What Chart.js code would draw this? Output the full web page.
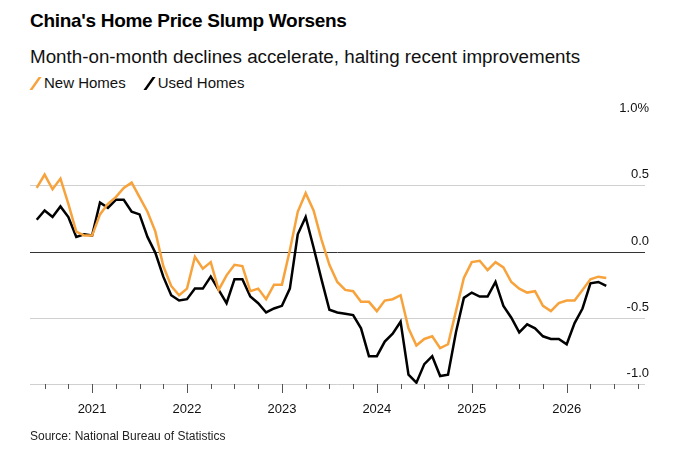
<!DOCTYPE html>
<html>
<head>
<meta charset="utf-8">
<script src="https://cdn.jsdelivr.net/npm/chart.js@4"></script>
<style>
  body { margin: 0; width: 676px; height: 459px; background: #fff; font-family: "Liberation Sans", Arial, sans-serif; position: relative; overflow: hidden; }
  #title { position: absolute; left: 30px; top: 10px; font-size: 19px; font-weight: bold; color: #000; letter-spacing: -0.3px; }
  #sub { position: absolute; left: 30px; top: 46px; font-size: 18.8px; color: #111; }
  #legend { position: absolute; left: 30px; top: 74px; font-size: 15px; color: #111; }
  #legend span { display: inline-block; margin-right: 18px; }
  #legend i { display: inline-block; width: 3px; height: 13px; transform: skewX(-35deg) translateX(4px); margin-right: 11px; vertical-align: -2px; }
  #src { position: absolute; left: 30px; top: 429px; font-size: 12px; color: #222; }
  #wrap { position: absolute; left: 0; top: 100px; width: 676px; height: 330px; }
</style>
</head>
<body>
<div id="title">China's Home Price Slump Worsens</div>
<div id="sub">Month-on-month declines accelerate, halting recent improvements</div>
<div id="legend"><span><i style="background:#f7a23b"></i>New Homes</span><span><i style="background:#000"></i>Used Homes</span></div>
<div id="wrap"><canvas id="c"></canvas></div>
<div id="src">Source: National Bureau of Statistics</div>
<script>
// monthly, Jun 2020 .. Jun 2026
const startYear = 2020, startMonth = 6;
const newHomes = [0.48, 0.58, 0.47, 0.55, 0.36, 0.15, 0.12, 0.12, 0.28, 0.36, 0.41, 0.48, 0.52, 0.41, 0.30, 0.15,
  -0.11, -0.26, -0.33, -0.28, -0.04, -0.13, -0.08, -0.29, -0.18, -0.10, -0.11, -0.30, -0.28, -0.36, -0.25, -0.25,
  0.01, 0.30, 0.44, 0.31, 0.09, -0.10, -0.23, -0.29, -0.30, -0.38, -0.38, -0.45, -0.37, -0.36, -0.33, -0.58,
  -0.71, -0.66, -0.64, -0.73, -0.70, -0.45, -0.20, -0.08, -0.07, -0.14, -0.08, -0.12, -0.23, -0.28, -0.31, -0.30,
  -0.41, -0.45, -0.39, -0.37, -0.37, -0.29, -0.21, -0.19, -0.20];
const usedHomes = [0.24, 0.31, 0.26, 0.34, 0.26, 0.11, 0.13, 0.12, 0.37, 0.33, 0.39, 0.39, 0.30, 0.28, 0.11, -0.01,
  -0.19, -0.33, -0.37, -0.36, -0.28, -0.28, -0.19, -0.29, -0.39, -0.21, -0.21, -0.34, -0.39, -0.46, -0.43, -0.41,
  -0.28, 0.13, 0.26, 0.03, -0.21, -0.44, -0.46, -0.47, -0.48, -0.58, -0.79, -0.79, -0.68, -0.62, -0.53, -0.93,
  -0.99, -0.85, -0.79, -0.94, -0.93, -0.61, -0.35, -0.31, -0.34, -0.34, -0.23, -0.41, -0.50, -0.61, -0.55, -0.58,
  -0.64, -0.66, -0.66, -0.70, -0.54, -0.43, -0.24, -0.23, -0.26];
const yTicks = [1.0, 0.5, 0.0, -0.5, -1.0];
const yLabels = ["1.0%", "0.5", "0.0", "-0.5", "-1.0"];

const pts = arr => arr.map((v, i) => ({ x: i, y: v }));
const monthOf = k => (startMonth - 1 + k) % 12; // 0 = Jan
const yearOf = k => startYear + Math.floor((startMonth - 1 + k) / 12);

const overlay = {
  id: "overlay",
  beforeDatasetsDraw(chart) {
    const { ctx, chartArea: a, scales: { y } } = chart;
    ctx.save();
    yTicks.forEach((v, i) => {
      const py = Math.round(y.getPixelForValue(v)) + 0.5;
      if (v !== 1.0) {
        ctx.strokeStyle = v === 0 ? "#333" : "#d0d0d0";
        ctx.lineWidth = 1;
        ctx.beginPath(); ctx.moveTo(a.left, py); ctx.lineTo(a.right, py); ctx.stroke();
      }
      ctx.fillStyle = "#111";
      ctx.font = "13px 'Liberation Sans', Arial";
      ctx.textAlign = "right";
      ctx.textBaseline = "bottom";
      ctx.fillText(yLabels[i], a.right + 4, py - 5);
    });
    ctx.restore();
  },
  afterDraw(chart) {
    const { ctx, chartArea: a, scales: { x } } = chart;
    ctx.save();
    ctx.strokeStyle = "#555";
    ctx.lineWidth = 1;
    for (let k = 0; k <= 76; k++) {
      if (monthOf(k) % 3 !== 0) continue;
      const px = Math.round(x.getPixelForValue(k)) + 0.5;
      if (px < a.left || px > a.right) continue;
      ctx.beginPath(); ctx.moveTo(px, a.bottom); ctx.lineTo(px, a.bottom + (monthOf(k) === 0 ? 9 : 5)); ctx.stroke();
    }
    ctx.restore();
  }
};

new Chart(document.getElementById("c"), {
  type: "line",
  data: {
    datasets: [
      { label: "New Homes", data: pts(newHomes), borderColor: "#f7a23b", borderWidth: 2.5, pointRadius: 0, tension: 0 },
      { label: "Used Homes", data: pts(usedHomes), borderColor: "#000", borderWidth: 2.5, pointRadius: 0, tension: 0 }
    ]
  },
  options: {
    responsive: true, maintainAspectRatio: false, animation: false,
    layout: { padding: { left: 30, right: 31, top: 19, bottom: 0 } },
    plugins: { legend: { display: false }, tooltip: { enabled: false } },
    scales: {
      x: {
        type: "linear", min: -0.85, max: 76.9,
        grid: { display: false }, border: { display: false },
        afterBuildTicks: s => { const t = []; for (let k = 0; k <= 76; k++) if (monthOf(k) === 0) t.push({ value: k }); s.ticks = t; },
        ticks: { autoSkip: false, maxRotation: 0, padding: 10, color: "#111", font: { size: 13, family: "'Liberation Sans', Arial" },
          callback: v => String(yearOf(v)) },
        afterFit: s => { s.height = 46; }
      },
      y: {
        min: -1.0, max: 1.0, position: "right",
        grid: { display: false }, border: { display: false },
        ticks: { display: false },
        afterFit: s => { s.width = 0; }
      }
    }
  },
  plugins: [overlay]
});
</script>
</body>
</html>
